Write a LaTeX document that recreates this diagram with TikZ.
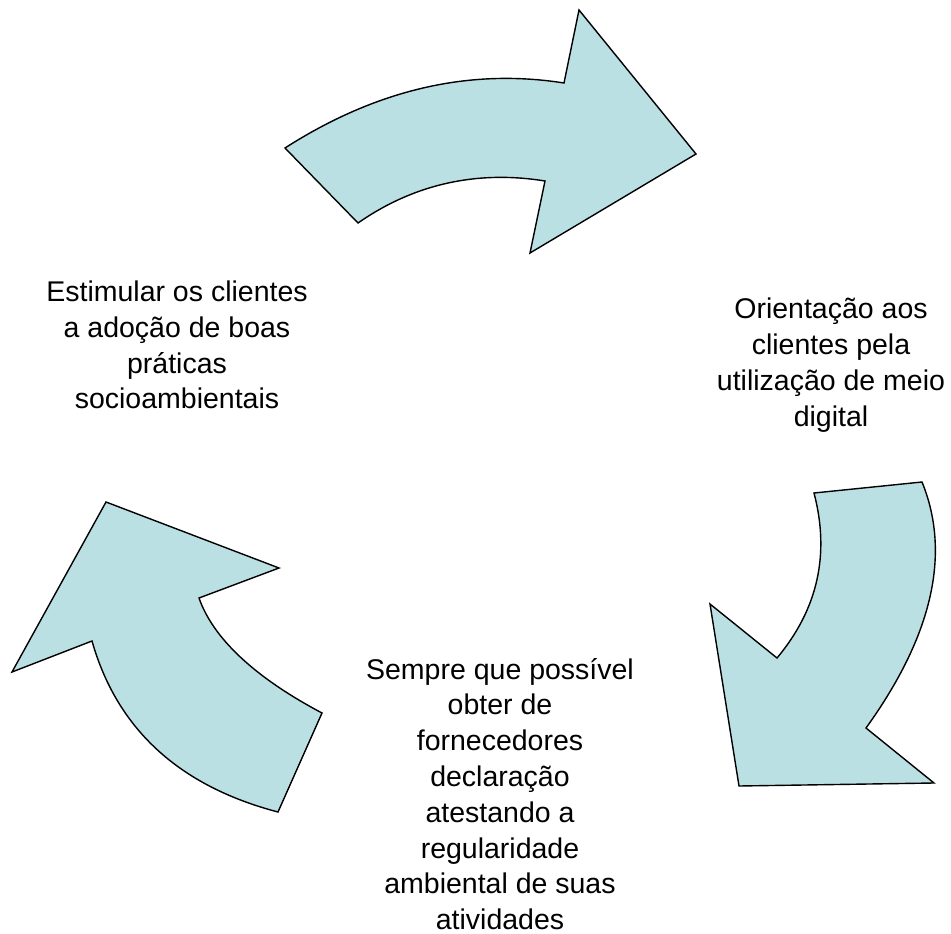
\documentclass[tikz,border=0pt]{standalone}
\usepackage{fontspec}
\setmainfont{Liberation Sans}
\definecolor{arrowfill}{RGB}{187,224,227}
\begin{document}
\begin{tikzpicture}[x=1pt,y=-1pt,
  arrowshape/.style={fill=arrowfill,draw=black,line width=1.4pt,line join=miter},
  label/.style={align=center,font=\fontsize{28.5}{35.8}\selectfont,inner sep=0pt}]
\useasboundingbox (0,0) rectangle (951,934);
% top arrow
\draw[arrowshape] (285,148) -- (358,223)
  .. controls (414,184) and (477,170) .. (545,181)
  -- (530,253) -- (696,154) -- (579,10) -- (564,83)
  .. controls (469,68) and (376,89.7) .. cycle;
% right arrow
\draw[arrowshape] (814,493) -- (922,482)
  .. controls (951,553) and (933,635) .. (866,728)
  -- (934,783) -- (739,786) -- (710,604) -- (777,658)
  .. controls (818,609) and (830,554) .. cycle;
% left arrow
\draw[arrowshape] (278,812) -- (322,713)
  .. controls (254,677) and (213,638) .. (199,598)
  -- (279,568) -- (106,502) -- (12,672) -- (92,641)
  .. controls (117,729) and (179,786) .. cycle;
\node[label] (left) at (177,345) {Estimular os clientes\\a adoção de boas\\práticas\\socioambientais};
\node[label] (right) at (831,365) {Orientação aos\\clientes pela\\utilização de meio\\digital};
\node[label] (bottom) at (500,794) {Sempre que possível\\obter de\\fornecedores\\declaração\\atestando a\\regularidade\\ambiental de suas\\atividades};
\end{tikzpicture}
\end{document}
